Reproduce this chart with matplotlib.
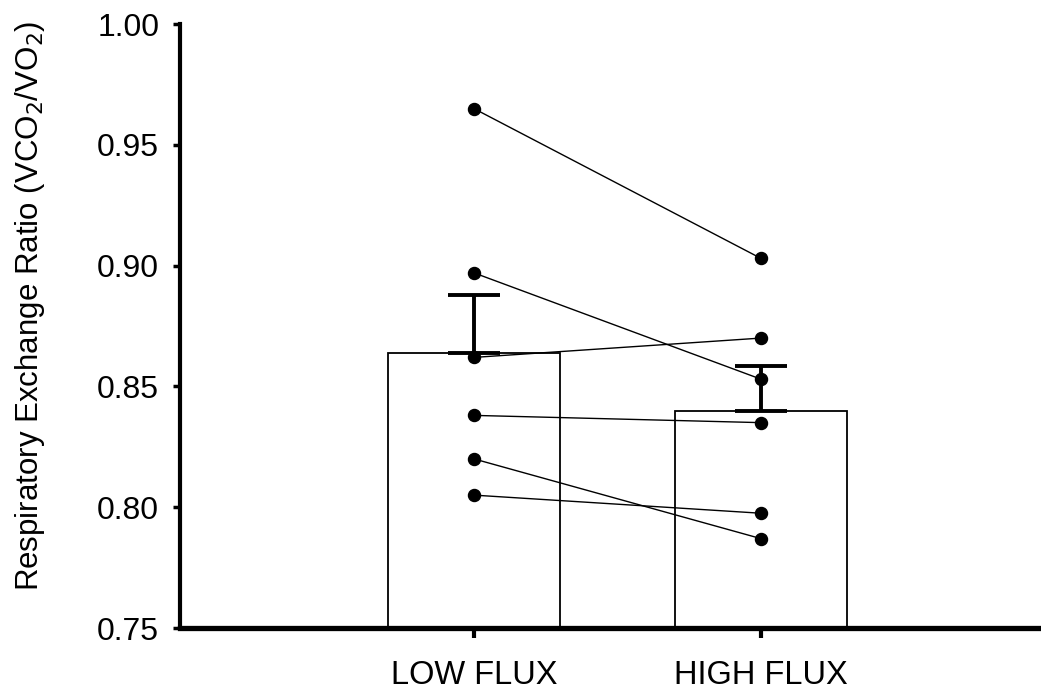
import matplotlib.pyplot as plt

plt.rcParams['font.family'] = ['Liberation Sans', 'DejaVu Sans']

# group labels and summary values
groups = ['LOW FLUX', 'HIGH FLUX']
means = [0.864, 0.840]
err_up = [0.888, 0.8586]

# paired subject values (low flux -> high flux)
low_flux = [0.965, 0.897, 0.862, 0.838, 0.820, 0.805]
high_flux = [0.903, 0.853, 0.870, 0.835, 0.787, 0.7975]

fig = plt.figure(figsize=(10.41, 6.92), dpi=100)
ax = fig.add_axes([180 / 1041, 64 / 692, 1 - 180 / 1041, (628 - 24) / 692])

pos = [0, 1]
ax.bar(pos, means, width=0.6, bottom=0, color='white', edgecolor='black',
       linewidth=1.3, zorder=1)

for lo, hi in zip(low_flux, high_flux):
    ax.plot(pos, [lo, hi], color='black', linewidth=1.0, zorder=2)

ax.errorbar(pos, means, yerr=[[0, 0], [e - m for e, m in zip(err_up, means)]],
            fmt='none', ecolor='black', elinewidth=2.8, capsize=19,
            capthick=2.8, zorder=3)

ax.scatter([0] * len(low_flux), low_flux, s=75, color='black', zorder=4)
ax.scatter([1] * len(high_flux), high_flux, s=75, color='black', zorder=4)

ax.set_ylim(0.75, 1.00)
ax.set_xlim(-1.024, 1.976)
ax.set_yticks([0.75, 0.80, 0.85, 0.90, 0.95, 1.00])
ax.set_yticklabels(['0.75', '0.80', '0.85', '0.90', '0.95', '1.00'])
ax.set_xticks(pos)
ax.set_xticklabels(groups)

ax.spines['top'].set_visible(False)
ax.spines['right'].set_visible(False)
ax.spines['left'].set_linewidth(3)
ax.spines['bottom'].set_linewidth(3.8)
ax.tick_params(axis='y', direction='out', length=5, width=2.5, labelsize=23, pad=10)
ax.tick_params(axis='x', direction='out', length=7, width=3, labelsize=23.5, pad=16)

fig.text(30 / 1041, 1 - 306 / 692, 'Respiratory Exchange Ratio (VCO$_2$/VO$_2$)',
         rotation=90, ha='center', va='center', fontsize=22.5)

fig.savefig('out.png', dpi=100)
